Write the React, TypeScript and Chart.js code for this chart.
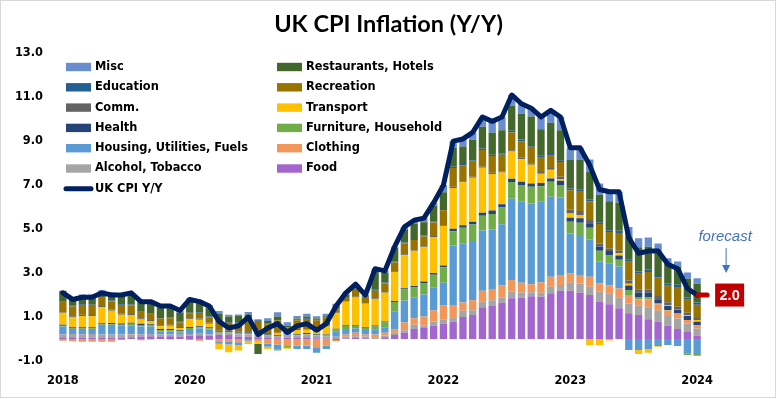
import React, { useEffect, useRef } from "react";
import { Chart, registerables } from "chart.js";

Chart.register(...registerables);

const categories = [
  "Dec-18",
  "Jan-19", "Feb-19", "Mar-19", "Apr-19", "May-19", "Jun-19", "Jul-19", "Aug-19", "Sep-19", "Oct-19", "Nov-19", "Dec-19",
  "Jan-20", "Feb-20", "Mar-20", "Apr-20", "May-20", "Jun-20", "Jul-20", "Aug-20", "Sep-20", "Oct-20", "Nov-20", "Dec-20",
  "Jan-21", "Feb-21", "Mar-21", "Apr-21", "May-21", "Jun-21", "Jul-21", "Aug-21", "Sep-21", "Oct-21", "Nov-21", "Dec-21",
  "Jan-22", "Feb-22", "Mar-22", "Apr-22", "May-22", "Jun-22", "Jul-22", "Aug-22", "Sep-22", "Oct-22", "Nov-22", "Dec-22",
  "Jan-23", "Feb-23", "Mar-23", "Apr-23", "May-23", "Jun-23", "Jul-23", "Aug-23", "Sep-23", "Oct-23", "Nov-23", "Dec-23",
  "Jan-24", "Feb-24", "Mar-24", "Apr-24", "May-24",
];

// one year label every 13 categories (as in the source chart)
const xTickLabels = ["2018", "2020", "2021", "2022", "2023", "2024"];
const xTickEvery = 13;

const cpiYoY = [
  2.1,
  1.8, 1.9, 1.9, 2.1, 2.0, 2.0, 2.1, 1.7, 1.7, 1.5, 1.5, 1.3,
  1.8, 1.7, 1.5, 0.8, 0.5, 0.6, 1.0, 0.2, 0.5, 0.7, 0.3, 0.6,
  0.7, 0.4, 0.7, 1.5, 2.1, 2.5, 2.0, 3.2, 3.1, 4.2, 5.1, 5.4,
  5.5, 6.2, 7.0, 9.0, 9.1, 9.4, 10.1, 9.9, 10.1, 11.1, 10.7, 10.5,
  10.1, 10.4, 10.1, 8.7, 8.7, 7.9, 6.8, 6.7, 6.7, 4.6, 3.9, 4.0,
  4.0, 3.4, 3.2, 2.3, 2.0,
];

const food = [
  0.05,
  0.08, 0.05, 0.06, 0.05, 0.06, 0.06, 0.08, 0.12, 0.13, 0.12, 0.13, 0.12,
  0.15, 0.17, 0.15, 0.18, 0.18, 0.12, 0.10, 0.08, 0.05, 0.03, 0.06, 0.05,
  0.08, 0.04, 0.02, -0.05, 0.02, 0.05, 0.03, 0.00, 0.08, 0.18, 0.30, 0.45,
  0.50, 0.60, 0.70, 0.79, 1.00, 1.09, 1.44, 1.50, 1.65, 1.85, 1.88, 1.95,
  1.92, 2.08, 2.20, 2.20, 2.12, 2.00, 1.70, 1.58, 1.40, 1.17, 1.09, 0.90,
  0.78, 0.60, 0.45, 0.32, 0.15,
];
const alcoholTobacco = [
  0.15,
  0.15, 0.17, 0.17, 0.15, 0.14, 0.14, 0.12, 0.10, 0.10, 0.08, 0.08, 0.07,
  0.08, 0.07, 0.07, 0.10, 0.10, 0.10, 0.10, 0.10, 0.10, 0.10, 0.12, 0.12,
  0.12, 0.12, 0.10, 0.10, 0.08, 0.08, 0.08, 0.08, 0.08, 0.10, 0.10, 0.20,
  0.12, 0.20, 0.18, 0.20, 0.28, 0.22, 0.26, 0.26, 0.24, 0.30, 0.23, 0.18,
  0.18, 0.30, 0.26, 0.36, 0.41, 0.38, 0.45, 0.50, 0.50, 0.45, 0.42, 0.55,
  0.50, 0.45, 0.48, 0.38, 0.33,
];
const clothing = [
  -0.08,
  -0.10, -0.12, -0.12, -0.12, -0.12, -0.05, 0.03, -0.06, -0.02, 0.00, -0.02, 0.00,
  -0.05, -0.08, -0.05, -0.10, -0.10, -0.15, 0.03, -0.10, -0.20, -0.25, -0.32, -0.30,
  -0.30, -0.38, -0.30, -0.05, 0.10, 0.15, 0.10, 0.12, 0.12, 0.15, 0.35, 0.30,
  0.40, 0.50, 0.65, 0.56, 0.38, 0.45, 0.50, 0.48, 0.56, 0.53, 0.45, 0.36,
  0.47, 0.45, 0.45, 0.42, 0.38, 0.45, 0.38, 0.36, 0.40, 0.38, 0.30, 0.35,
  0.30, 0.25, 0.23, 0.17, 0.15,
];
const housing = [
  0.37,
  0.22, 0.23, 0.23, 0.45, 0.45, 0.42, 0.40, 0.35, 0.33, 0.15, 0.12, 0.10,
  0.22, 0.24, 0.22, -0.12, -0.15, -0.12, -0.08, 0.05, -0.15, -0.22, 0.04, -0.15,
  -0.15, -0.25, -0.15, 0.25, 0.25, 0.20, 0.20, 0.22, 0.25, 0.83, 1.00, 0.94,
  1.00, 1.06, 1.03, 2.70, 2.70, 2.65, 2.73, 2.74, 2.77, 3.70, 3.68, 3.67,
  3.67, 3.64, 3.53, 1.82, 1.82, 1.70, 0.98, 0.98, 1.00, -0.50, -0.50, -0.47,
  -0.32, -0.27, -0.27, -0.65, -0.68,
];
const furniture = [
  0.03,
  0.03, 0.03, 0.03, 0.02, 0.03, 0.03, 0.06, 0.07, 0.06, 0.06, 0.07, 0.06,
  0.05, 0.05, 0.05, 0.03, 0.03, 0.04, 0.06, 0.06, 0.04, -0.05, -0.08, 0.02,
  0.03, 0.03, 0.05, 0.08, 0.15, 0.12, 0.10, 0.15, 0.22, 0.42, 0.50, 0.45,
  0.53, 0.56, 0.70, 0.65, 0.70, 0.80, 0.68, 0.71, 0.76, 0.76, 0.76, 0.76,
  0.71, 0.68, 0.56, 0.53, 0.56, 0.53, 0.50, 0.38, 0.30, 0.23, 0.10, 0.10,
  0.05, 0.02, -0.05, -0.08, -0.08,
];
const health = [
  0.05,
  0.05, 0.05, 0.05, 0.05, 0.05, 0.05, 0.05, 0.05, 0.05, 0.05, 0.05, 0.05,
  0.05, 0.05, 0.05, 0.04, 0.04, 0.04, 0.04, 0.04, 0.04, 0.04, 0.04, 0.04,
  0.04, 0.04, 0.04, 0.04, 0.04, 0.04, 0.04, 0.05, 0.05, 0.05, 0.06, 0.07,
  0.07, 0.08, 0.08, 0.12, 0.12, 0.12, 0.13, 0.15, 0.15, 0.15, 0.15, 0.15,
  0.15, 0.15, 0.20, 0.18, 0.20, 0.17, 0.20, 0.20, 0.20, 0.20, 0.20, 0.20,
  0.18, 0.18, 0.18, 0.18, 0.15,
];
const transport = [
  0.55,
  0.45, 0.52, 0.50, 0.72, 0.55, 0.40, 0.35, 0.20, 0.15, 0.12, 0.15, 0.10,
  0.35, 0.30, 0.15, -0.25, -0.35, -0.25, -0.15, -0.12, -0.10, 0.08, -0.04, 0.18,
  0.15, 0.10, 0.38, 0.70, 1.05, 1.25, 1.05, 1.20, 1.30, 1.32, 1.50, 1.60,
  1.55, 1.64, 1.80, 1.85, 1.95, 2.00, 2.05, 1.67, 1.44, 1.24, 1.03, 0.86,
  0.42, 0.40, 0.08, 0.20, 0.15, -0.27, -0.27, -0.07, 0.10, 0.08, -0.18, -0.15,
  -0.03, 0.05, 0.03, 0.04, 0.08,
];
const communication = [
  0.03,
  0.05, 0.05, 0.05, 0.06, 0.06, 0.05, 0.05, 0.05, 0.05, 0.05, 0.05, 0.05,
  0.05, 0.05, 0.05, 0.03, 0.04, 0.04, 0.04, 0.04, 0.04, 0.04, 0.04, 0.04,
  0.04, 0.04, 0.04, 0.03, 0.03, 0.03, 0.03, 0.03, 0.03, 0.03, 0.04, 0.04,
  0.04, 0.04, 0.04, 0.05, 0.05, 0.05, 0.05, 0.05, 0.05, 0.06, 0.06, 0.06,
  0.08, 0.08, 0.10, 0.18, 0.18, 0.18, 0.12, 0.12, 0.12, 0.15, 0.15, 0.15,
  0.15, 0.12, 0.10, 0.10, 0.10,
];
const recreation = [
  0.45,
  0.45, 0.45, 0.47, 0.38, 0.38, 0.40, 0.40, 0.30, 0.28, 0.30, 0.30, 0.20,
  0.22, 0.25, 0.25, 0.45, 0.35, 0.40, 0.42, 0.45, 0.40, 0.55, 0.22, 0.40,
  0.45, 0.48, 0.35, 0.15, 0.15, 0.35, 0.25, 0.35, 0.40, 0.40, 0.50, 0.45,
  0.45, 0.62, 0.68, 0.86, 0.72, 0.68, 0.76, 0.76, 0.76, 0.80, 0.76, 0.76,
  0.65, 0.56, 0.67, 0.88, 0.91, 0.86, 0.90, 0.75, 0.80, 0.85, 0.71, 0.80,
  0.85, 0.75, 0.90, 0.60, 0.60,
];
const education = [
  0.03,
  0.03, 0.03, 0.03, 0.03, 0.03, 0.03, 0.03, 0.03, 0.03, 0.03, 0.03, 0.03,
  0.03, 0.03, 0.03, 0.03, 0.03, 0.03, 0.03, 0.03, 0.03, 0.03, 0.03, 0.03,
  0.03, 0.03, 0.03, 0.03, 0.03, 0.03, 0.03, 0.04, 0.04, 0.04, 0.04, 0.05,
  0.05, 0.05, 0.05, 0.06, 0.06, 0.06, 0.06, 0.06, 0.06, 0.08, 0.08, 0.08,
  0.08, 0.08, 0.08, 0.08, 0.08, 0.08, 0.08, 0.08, 0.10, 0.10, 0.10, 0.10,
  0.10, 0.10, 0.10, 0.10, 0.10,
];
const restaurants = [
  0.48,
  0.35, 0.38, 0.38, 0.22, 0.30, 0.40, 0.45, 0.40, 0.45, 0.45, 0.45, 0.43,
  0.50, 0.42, 0.40, 0.28, 0.25, 0.30, 0.30, -0.46, 0.12, 0.15, 0.05, 0.05,
  0.08, 0.05, 0.06, 0.10, 0.10, 0.10, 0.00, 0.85, 0.45, 0.63, 0.60, 0.70,
  0.60, 0.72, 0.76, 0.86, 0.80, 0.94, 1.00, 1.00, 1.06, 1.14, 1.17, 1.29,
  1.21, 1.42, 1.36, 1.32, 1.36, 1.26, 1.25, 1.32, 1.28, 1.06, 1.10, 1.05,
  1.05, 0.90, 0.83, 0.85, 0.85,
];
const misc = [
  0.00,
  0.04, 0.06, 0.05, 0.09, 0.07, 0.07, 0.08, 0.09, 0.09, 0.09, 0.09, 0.09,
  0.15, 0.15, 0.13, 0.13, 0.08, 0.05, 0.11, 0.05, 0.13, 0.20, 0.16, 0.12,
  0.13, 0.10, 0.08, 0.12, 0.10, 0.10, 0.09, 0.11, 0.08, 0.05, 0.11, 0.15,
  0.19, 0.13, 0.33, 0.30, 0.34, 0.34, 0.44, 0.52, 0.60, 0.49, 0.45, 0.38,
  0.56, 0.56, 0.61, 0.53, 0.53, 0.56, 0.51, 0.50, 0.50, 0.43, 0.41, 0.42,
  0.39, 0.25, 0.22, 0.29, 0.25,
];

// stacking order: first entry sits next to the zero line
const seriesNames = [
  "Food", "Alcohol, Tobacco", "Clothing", "Housing, Utilities, Fuels", "Furniture, Household", "Health",
  "Transport", "Comm.", "Recreation", "Education", "Restaurants, Hotels", "Misc",
];
const seriesValues = [
  food, alcoholTobacco, clothing, housing, furniture, health,
  transport, communication, recreation, education, restaurants, misc,
];
const seriesColors = [
  "#A366CF", "#A5A5A5", "#F1975A", "#5B9BD5", "#70AD47", "#264478",
  "#FFC000", "#636363", "#997300", "#255E91", "#43682B", "#698ED0",
];
const lineName = "UK CPI Y/Y";
const lineColor = "#002060";
const titleText = "UK CPI Inflation (Y/Y)";
const forecastText = "forecast";

const LABEL_FONT = 'bold 11.4px "DejaVu Sans"';

const overlayPlugin = {
  id: "overlay",
  afterDraw(chart: any) {
    const ctx: CanvasRenderingContext2D = chart.ctx;
    ctx.save();
    // ---- legend (two columns, reversed series order, row-major) ----
    const barSets = chart.data.datasets.filter((d: any) => d.type !== "line");
    const lineSet = chart.data.datasets.find((d: any) => d.type === "line");
    const items = barSets.slice().reverse();
    const colX = [66, 277];
    const rowY0 = 67;
    const rowStep = 20.3;
    ctx.font = LABEL_FONT;
    ctx.textBaseline = "middle";
    ctx.textAlign = "left";
    items.forEach((d: any, i: number) => {
      const col = i % 2;
      const row = Math.floor(i / 2);
      const x = colX[col];
      const y = rowY0 + row * rowStep;
      ctx.fillStyle = d.backgroundColor;
      ctx.fillRect(x, y - 4.2, 25, 8.4);
      ctx.fillStyle = "#000";
      ctx.fillText(d.label, x + 29, y);
    });
    if (lineSet) {
      const y = rowY0 + Math.ceil(items.length / 2) * rowStep;
      ctx.strokeStyle = lineSet.borderColor;
      ctx.lineWidth = 5;
      ctx.lineCap = "round";
      ctx.beginPath();
      ctx.moveTo(66, y);
      ctx.lineTo(91, y);
      ctx.stroke();
      ctx.fillStyle = "#000";
      ctx.fillText(lineSet.label, 95, y);
    }
    // ---- forecast annotation at the last point ----
    const xs = chart.scales.x;
    const ys = chart.scales.y;
    const last = cpiYoY.length - 1;
    const px = xs.getPixelForValue(last);
    const py = ys.getPixelForValue(cpiYoY[last]);
    ctx.strokeStyle = "#C00000";
    ctx.lineWidth = 5;
    ctx.lineCap = "round";
    ctx.beginPath();
    ctx.moveTo(px + 1, py);
    ctx.lineTo(px + 10, py);
    ctx.stroke();
    ctx.fillStyle = "#C00000";
    ctx.fillRect(px + 18, py - 11.5, 29, 23);
    ctx.fillStyle = "#FFFFFF";
    ctx.font = 'bold 14.5px "Liberation Sans"';
    ctx.textAlign = "center";
    ctx.textBaseline = "middle";
    ctx.fillText(cpiYoY[last].toFixed(1), px + 32.5, py + 0.5);
    ctx.fillStyle = "#4472C4";
    ctx.font = 'italic 15px "Liberation Sans"';
    ctx.textBaseline = "alphabetic";
    ctx.fillText(forecastText, px + 28, py - 54);
    ctx.strokeStyle = "#4472C4";
    ctx.lineWidth = 1;
    ctx.lineCap = "butt";
    ctx.beginPath();
    ctx.moveTo(px + 29, py - 47);
    ctx.lineTo(px + 29, py - 28);
    ctx.stroke();
    ctx.beginPath();
    ctx.moveTo(px + 25, py - 30);
    ctx.lineTo(px + 33, py - 30);
    ctx.lineTo(px + 29, py - 22);
    ctx.closePath();
    ctx.fill();
    ctx.restore();
  },
};

export default function App() {
  const ref = useRef<HTMLCanvasElement | null>(null);

  useEffect(() => {
    if (!ref.current) return;
    Chart.defaults.font.family = '"DejaVu Sans"';
    const datasets: any[] = seriesNames.map((name, i) => ({
      type: "bar",
      label: name,
      data: seriesValues[i],
      backgroundColor: seriesColors[i],
      borderWidth: 0,
      barPercentage: 0.75,
      categoryPercentage: 1.0,
      stack: "parts",
      order: 1,
    }));
    datasets.push({
      type: "line",
      label: lineName,
      data: cpiYoY,
      borderColor: lineColor,
      backgroundColor: lineColor,
      borderWidth: 5,
      pointRadius: 0,
      pointHoverRadius: 0,
      tension: 0,
      fill: false,
      stack: "cpi",
      order: 0,
      borderJoinStyle: "round",
      borderCapStyle: "round",
    });

    const chart = new Chart(ref.current, {
      type: "bar",
      data: { labels: categories, datasets },
      options: {
        animation: false,
        responsive: false,
        maintainAspectRatio: false,
        layout: { padding: { left: 0, right: 0, top: 0, bottom: 0 } },
        plugins: {
          legend: { display: false },
          tooltip: { enabled: false },
          title: {
            display: true,
            text: titleText,
            color: "#000",
            font: { family: "Lato", weight: "bold", size: 23.5 },
            padding: { top: 10, bottom: 15 },
          },
        },
        scales: {
          x: {
            type: "category",
            stacked: true,
            offset: true,
            grid: { display: false, drawTicks: false },
            border: { display: false },
            ticks: {
              autoSkip: false,
              maxRotation: 0,
              minRotation: 0,
              padding: 13,
              color: "#000",
              font: { family: "DejaVu Sans", weight: "bold", size: 11.4 },
              callback: (_v: any, idx: number) =>
                idx % xTickEvery === 0 ? xTickLabels[idx / xTickEvery] ?? "" : "",
            },
            afterFit: (s: any) => {
              s.height = 38;
            },
          },
          y: {
            stacked: true,
            min: -1,
            max: 13,
            grid: { display: false, drawTicks: false },
            border: { display: false },
            ticks: {
              stepSize: 2,
              padding: 15,
              color: "#000",
              font: { family: "DejaVu Sans", weight: "bold", size: 11.4 },
              callback: (v: any) => Number(v).toFixed(1),
            },
            afterFit: (s: any) => {
              s.width = 58;
            },
          },
          // empty right-hand margin so the title stays centred on the whole canvas
          margin: {
            type: "linear",
            position: "right",
            display: true,
            grid: { display: false, drawTicks: false },
            border: { display: false },
            ticks: { display: false },
            afterFit: (s: any) => {
              s.width = 75;
            },
          },
        },
      },
      plugins: [overlayPlugin],
    } as any);
    return () => chart.destroy();
  }, []);

  return (
    <div
      style={{
        position: "fixed",
        left: 0,
        top: 0,
        width: 777,
        height: 399,
        background: "#FFFFFF",
      }}
    >
      <canvas ref={ref} width={777} height={399} style={{ display: "block", width: 777, height: 399 }} />
      <div
        style={{
          position: "absolute",
          left: 0,
          top: 0,
          width: 776,
          height: 398,
          border: "1px solid #D9D9D9",
          boxSizing: "border-box",
          pointerEvents: "none",
        }}
      />
    </div>
  );
}
